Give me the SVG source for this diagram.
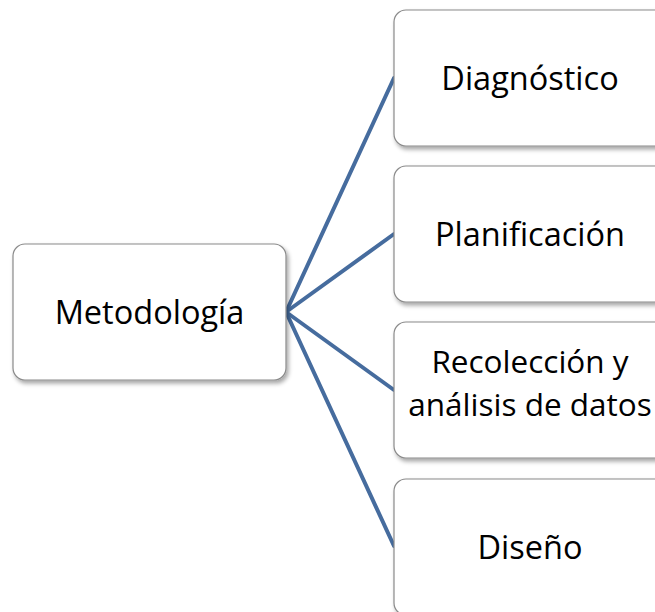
<svg xmlns="http://www.w3.org/2000/svg" width="655" height="612" viewBox="0 0 655 612">
<defs>
<filter id="sh" x="-10%" y="-10%" width="130%" height="130%">
<feDropShadow dx="2" dy="3" stdDeviation="2" flood-color="#000" flood-opacity="0.35"/>
</filter>
<style>
.box{fill:#fff;stroke:#8a8a8a;stroke-width:1.2;filter:url(#sh)}
.t{font-family:"Open Sans","Liberation Sans",sans-serif;font-size:32.5px;fill:#000;text-anchor:middle}
.s{font-size:31.5px}
.c{stroke:#466c9e;stroke-width:4;fill:none;stroke-linecap:round}
</style>
</defs>
<rect width="655" height="612" fill="#fff"/>
<g id="connectors">
<line class="c" x1="286" y1="312" x2="394" y2="78"/>
<line class="c" x1="286" y1="312" x2="394" y2="234"/>
<line class="c" x1="286" y1="312" x2="394" y2="390"/>
<line class="c" x1="286" y1="312" x2="394" y2="546"/>
</g>
<g id="metodologia">
<rect class="box" x="13" y="244" width="273" height="136" rx="12"/>
<text class="t" x="149.5" y="324">Metodología</text>
</g>
<g id="diagnostico">
<rect class="box" x="394" y="10" width="274" height="136" rx="12"/>
<text class="t" x="530" y="90">Diagnóstico</text>
</g>
<g id="planificacion">
<rect class="box" x="394" y="166" width="274" height="136" rx="12"/>
<text class="t" x="530" y="246">Planificación</text>
</g>
<g id="recoleccion">
<rect class="box" x="394" y="322" width="274" height="136" rx="12"/>
<text class="t s" x="530" y="373">Recolección y</text>
<text class="t s" x="530" y="416">análisis de datos</text>
</g>
<g id="diseno">
<rect class="box" x="394" y="479" width="274" height="136" rx="12"/>
<text class="t" x="530" y="559">Diseño</text>
</g>
</svg>
